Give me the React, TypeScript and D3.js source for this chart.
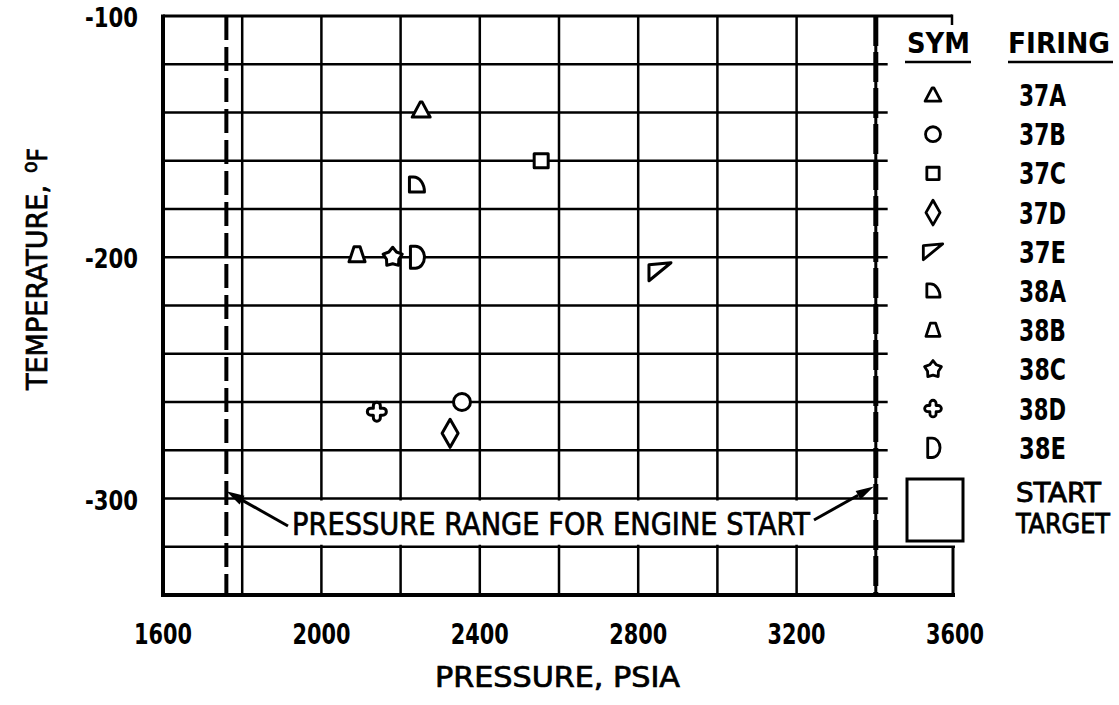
import React from 'react';
import * as d3 from 'd3';

// ---- data ----
const firings = ['37A', '37B', '37C', '37D', '37E', '38A', '38B', '38C', '38D', '38E'];
const pressures = [2252, 2355, 2555, 2325, 2855, 2240, 2090, 2180, 2140, 2240];
const temperatures = [-139, -260, -160, -273, -206, -170, -199, -200, -264, -200];
const xTickValues = [1600, 2000, 2400, 2800, 3200, 3600];
const yTickValues = [-100, -200, -300];
const xGridValues = [1800, 2000, 2200, 2400, 2600, 2800, 3000, 3200];
const yGridValues = [-120, -140, -160, -180, -200, -220, -240, -260, -280, -300];
const startRange = [1760, 3400];
const rangeLabel = 'PRESSURE RANGE FOR ENGINE START';

const FONT = "'DejaVu Sans', 'Liberation Sans Narrow', sans-serif";

const W = 1119;
const H = 705;
const x = d3.scaleLinear().domain([1600, 3600]).range([163, 955]);
const y = d3.scaleLinear().domain([-100, -340]).range([16, 595]);

// symbol path generators (relative to centre)
function starPath(R: number, r: number) {
  const pts: [number, number][] = [];
  for (let i = 0; i < 10; i++) {
    const a = -Math.PI / 2 + (i * Math.PI) / 5;
    const rad = i % 2 === 0 ? R : r;
    pts.push([rad * Math.cos(a), rad * Math.sin(a)]);
  }
  return 'M' + pts.map((p) => p[0].toFixed(2) + ',' + p[1].toFixed(2)).join('L') + 'Z';
}
function crossPath(a: number, b: number) {
  return `M${-a},${-a}L${-a},${-b}A${a},${a} 0 0 1 ${a},${-b}L${a},${-a}L${b},${-a}A${a},${a} 0 0 1 ${b},${a}L${a},${a}L${a},${b}A${a},${a} 0 0 1 ${-a},${b}L${-a},${a}L${-b},${a}A${a},${a} 0 0 1 ${-b},${-a}Z`;
}
const symbolPaths: Record<string, string> = {
  '37A': 'M-9,7L9,7L1,-8L-1,-8Z',
  '37B': 'M8.5,0A8.5,8.5 0 1 1 -8.5,0A8.5,8.5 0 1 1 8.5,0Z',
  '37C': 'M-7,-7L7,-7L7,7L-7,7Z',
  '37D': 'M0,-14L8,0L0,14L-8,0Z',
  '37E': 'M-11,-7L11,-9L-11,9Z',
  '38A': 'M-7,7L-7,-8L-3,-8A11,15 0 0 1 8,7Z',
  '38B': 'M-8,7L8,7L3,-8L-3,-8Z',
  '38C': starPath(10, 6.5),
  '38D': crossPath(3.5, 6),
  '38E': 'M-6,-11L-6,11L-1,11A9,11 0 0 0 -1,-11Z',
};

const legendTop = 95;
const legendStep = 39.2;

function arrow(x1: number, y1: number, x2: number, y2: number) {
  const dx = x2 - x1;
  const dy = y2 - y1;
  const len = Math.sqrt(dx * dx + dy * dy);
  const ux = dx / len;
  const uy = dy / len;
  const hl = 18;
  const hw = 5;
  const bx = x2 - ux * hl;
  const by = y2 - uy * hl;
  const head = `M${x2},${y2}L${bx - uy * hw},${by + ux * hw}L${bx + uy * hw},${by - ux * hw}Z`;
  return (
    <g>
      <line x1={x1} y1={y1} x2={bx} y2={by} stroke="#000" strokeWidth={3} />
      <path d={head} fill="#000" />
    </g>
  );
}

const narrow = { fontStretch: 'condensed' } as React.CSSProperties;

export default function App() {
  const x0 = x(1600);
  const x1 = x(3600);
  const yTop = y(-100);
  const yBot = y(-340);
  const gridRight = x(3430);
  const xs = x(startRange[0]);
  const xe = x(startRange[1]);
  const textY = (y(-300) + y(-320)) / 2;
  return (
    <svg width={W} height={H} style={{ position: 'absolute', left: 0, top: 0, background: '#fff', fontStretch: 'condensed' }} fontFamily={FONT}>
      <rect x={0} y={0} width={W} height={H} fill="#fff" />
      {/* vertical grid */}
      {xGridValues.map((v) => (
        <line key={'vx' + v} x1={x(v)} x2={x(v)} y1={yTop} y2={yBot} stroke="#000" strokeWidth={2.5} />
      ))}
      {/* horizontal grid */}
      {yGridValues.map((v) => (
        <line key={'hy' + v} x1={x0} x2={gridRight} y1={y(v)} y2={y(v)} stroke="#000" strokeWidth={2.5} />
      ))}
      {/* bottom row extends to right edge */}
      <line x1={x0} x2={x1} y1={y(-320)} y2={y(-320)} stroke="#000" strokeWidth={2.5} />
      <line x1={x1 - 2} x2={x1 - 2} y1={y(-320)} y2={yBot} stroke="#000" strokeWidth={3} />
      {/* frame */}
      <line x1={x0} x2={x1 - 3} y1={yTop} y2={yTop} stroke="#000" strokeWidth={3} />
      <line x1={x1 - 3} x2={x1 - 3} y1={yTop - 1.5} y2={yTop + 9} stroke="#000" strokeWidth={2.5} />
      <line x1={x0} x2={x0} y1={yTop - 1.5} y2={yBot + 2} stroke="#000" strokeWidth={4} />
      <line x1={x0 - 2} x2={x1} y1={yBot} y2={yBot} stroke="#000" strokeWidth={4} />
      {/* start range lines */}
      <line x1={xs} x2={xs} y1={yTop} y2={yBot} stroke="#000" strokeWidth={4} strokeDasharray="24 7" />
      <line x1={xe} x2={xe} y1={yTop} y2={yBot} stroke="#000" strokeWidth={3} />
      <line x1={xe} x2={xe} y1={yTop} y2={yBot} stroke="#000" strokeWidth={5} strokeDasharray="30 6" />
      {/* range annotation */}
      <rect x={288} y={y(-300) + 2} width={528} height={y(-320) - y(-300) - 4} fill="#fff" />
      <text x={292} y={textY + 12} fontSize={32} textLength={518} lengthAdjust="spacingAndGlyphs" stroke="#000" strokeWidth={0.7} style={narrow}>
        {rangeLabel}
      </text>
      {arrow(288, 526, xs, y(-297))}
      {arrow(814, 520, xe - 2, y(-295))}
      {/* data points */}
      {firings.map((f, i) => (
        <path
          key={'pt' + f}
          d={symbolPaths[f]}
          transform={`translate(${x(pressures[i])},${y(temperatures[i])})`}
          fill="#fff"
          stroke="#000"
          strokeWidth={3}
          strokeLinejoin="round"
        />
      ))}
      {/* y tick labels */}
      {yTickValues.map((v) => (
        <text key={'yt' + v} x={85} y={y(v) + 11} fontSize={27} fontWeight="bold" textLength={53} lengthAdjust="spacingAndGlyphs" style={narrow}>
          {v}
        </text>
      ))}
      {/* x tick labels */}
      {xTickValues.map((v) => (
        <text key={'xt' + v} x={x(v) - 29} y={644} fontSize={28} fontWeight="bold" textLength={58} lengthAdjust="spacingAndGlyphs" style={narrow}>
          {v}
        </text>
      ))}
      {/* axis titles */}
      <text x={435} y={687} fontSize={28} textLength={245} lengthAdjust="spacingAndGlyphs" stroke="#000" strokeWidth={0.7} style={narrow}>
        PRESSURE, PSIA
      </text>
      <text transform="translate(47,390) rotate(-90)" fontSize={28} stroke="#000" strokeWidth={0.7} style={narrow}>
        <tspan textLength={205} lengthAdjust="spacingAndGlyphs">TEMPERATURE,</tspan>
        <tspan dx={12} dy={-10} fontSize={21}>o</tspan>
        <tspan dy={10} fontSize={26}>F</tspan>
      </text>
      {/* legend */}
      <text x={907} y={53} fontSize={29} fontWeight="bold" textLength={63} lengthAdjust="spacingAndGlyphs" style={narrow}>SYM</text>
      <line x1={905} x2={971} y1={62} y2={62} stroke="#000" strokeWidth={2.5} />
      <text x={1008} y={53} fontSize={29} fontWeight="bold" textLength={102} lengthAdjust="spacingAndGlyphs" style={narrow}>FIRING</text>
      <line x1={1008} x2={1113} y1={62} y2={62} stroke="#000" strokeWidth={2.5} />
      {firings.map((f, i) => {
        const cy = legendTop + i * legendStep;
        return (
          <g key={'lg' + f}>
            <path
              d={symbolPaths[f]}
              transform={`translate(933,${cy}) scale(0.88)`}
              fill="#fff"
              stroke="#000"
              strokeWidth={3.2}
              strokeLinejoin="round"
            />
            <text x={1019} y={cy + 11} fontSize={31} fontWeight="bold" textLength={47} lengthAdjust="spacingAndGlyphs" style={narrow}>
              {f}
            </text>
          </g>
        );
      })}
      <rect x={907} y={479} width={56} height={62} fill="#fff" stroke="#000" strokeWidth={3} />
      <text x={1016} y={502} fontSize={26} textLength={85} lengthAdjust="spacingAndGlyphs" stroke="#000" strokeWidth={0.8} style={narrow}>START</text>
      <text x={1016} y={533} fontSize={26} textLength={94} lengthAdjust="spacingAndGlyphs" stroke="#000" strokeWidth={0.8} style={narrow}>TARGET</text>
    </svg>
  );
}
